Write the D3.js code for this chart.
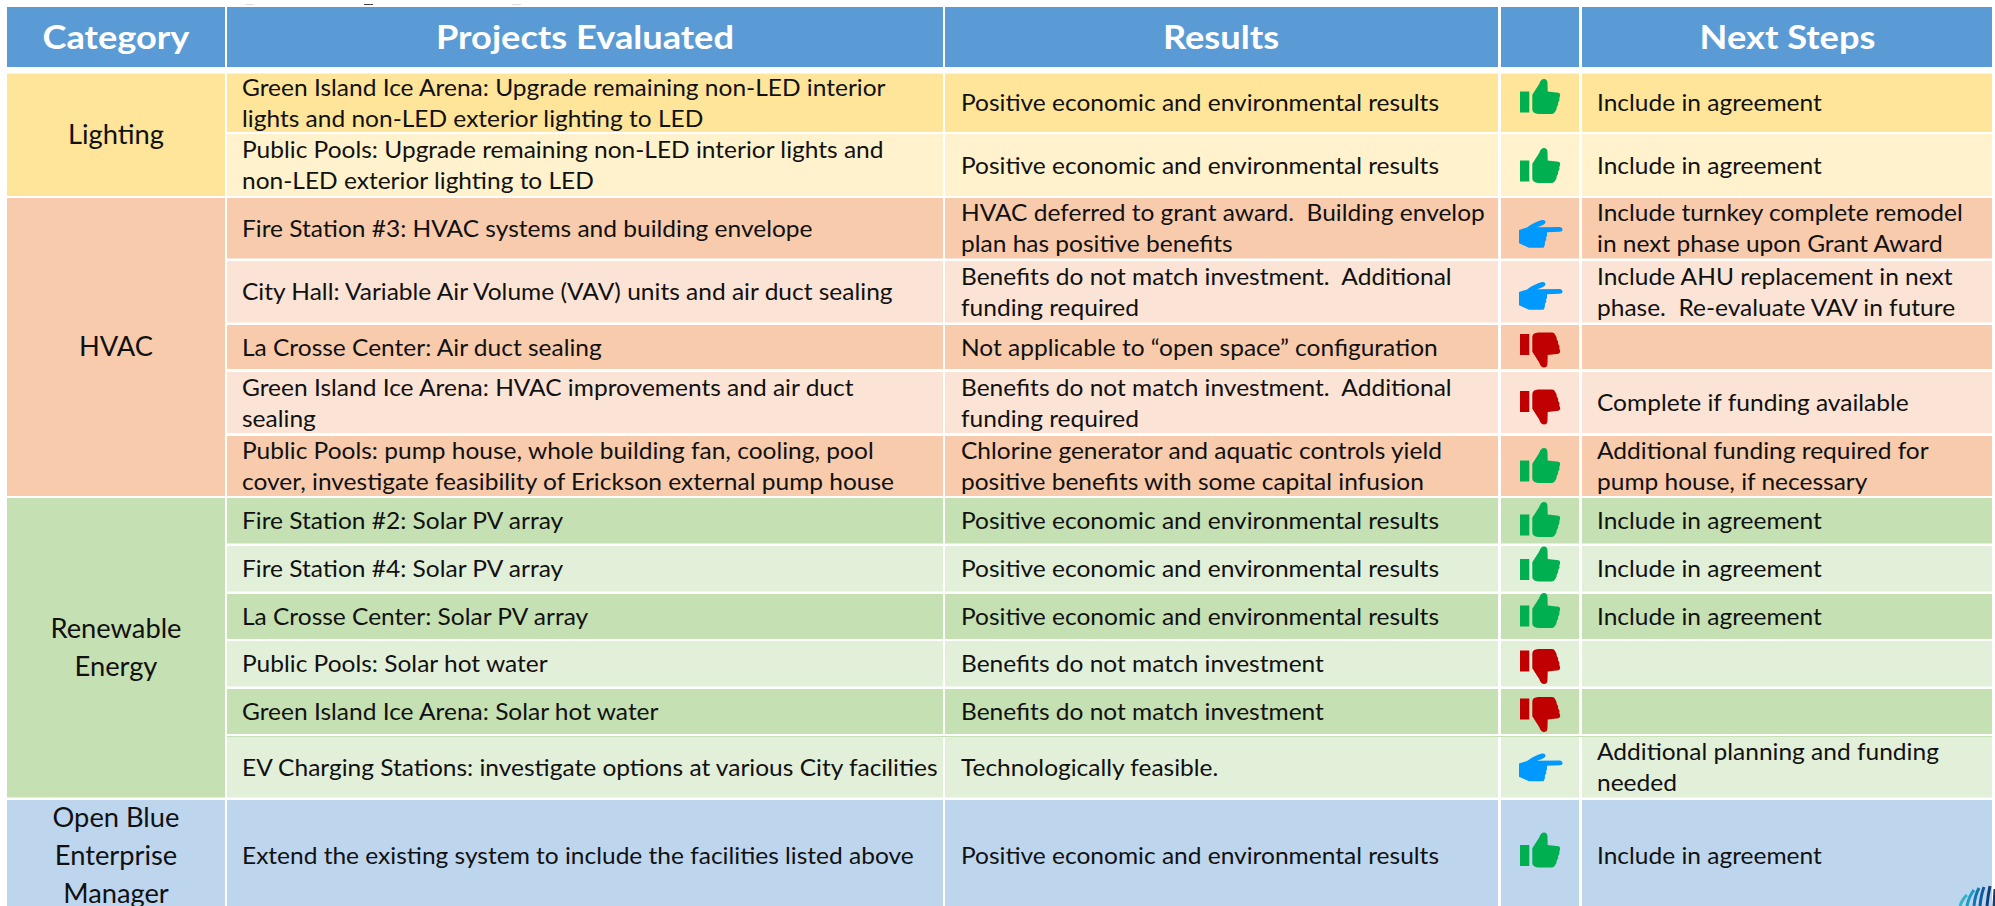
<!DOCTYPE html>
<html>
<head>
<meta charset="utf-8">
<script src="https://cdnjs.cloudflare.com/ajax/libs/d3/7.8.5/d3.min.js"></script>
<style>
  html, body { margin: 0; padding: 0; background: #fff; overflow: hidden; }
  svg { display: block; }
  text { font-family: Lato, "Open Sans", sans-serif; white-space: pre; }
</style>
</head>
<body>
<div id="chart"></div>
<script>
// Table content
var headers = ["Category", "Projects Evaluated", "Results", "", "Next Steps"];

var categories = ["Lighting", "HVAC", "Renewable\nEnergy", "Open Blue\nEnterprise\nManager"];
var categoryRows = [2, 5, 6, 1];

var projects = [
    "Green Island Ice Arena: Upgrade remaining non-LED interior\nlights and non-LED exterior lighting to LED",
    "Public Pools: Upgrade remaining non-LED interior lights and\nnon-LED exterior lighting to LED",
    "Fire Station #3: HVAC systems and building envelope",
    "City Hall: Variable Air Volume (VAV) units and air duct sealing",
    "La Crosse Center: Air duct sealing",
    "Green Island Ice Arena: HVAC improvements and air duct\nsealing",
    "Public Pools: pump house, whole building fan, cooling, pool\ncover, investigate feasibility of Erickson external pump house",
    "Fire Station #2: Solar PV array",
    "Fire Station #4: Solar PV array",
    "La Crosse Center: Solar PV array",
    "Public Pools: Solar hot water",
    "Green Island Ice Arena: Solar hot water",
    "EV Charging Stations: investigate options at various City facilities",
    "Extend the existing system to include the facilities listed above"
];

var results = [
    "Positive economic and environmental results",
    "Positive economic and environmental results",
    "HVAC deferred to grant award.  Building envelop\nplan has positive benefits",
    "Benefits do not match investment.  Additional\nfunding required",
    "Not applicable to “open space” configuration",
    "Benefits do not match investment.  Additional\nfunding required",
    "Chlorine generator and aquatic controls yield\npositive benefits with some capital infusion",
    "Positive economic and environmental results",
    "Positive economic and environmental results",
    "Positive economic and environmental results",
    "Benefits do not match investment",
    "Benefits do not match investment",
    "Technologically feasible.",
    "Positive economic and environmental results"
];

var verdicts = ["up", "up", "point", "point", "down", "down", "up", "up", "up", "up", "down", "down", "point", "up"];

var nextSteps = [
    "Include in agreement",
    "Include in agreement",
    "Include turnkey complete remodel\nin next phase upon Grant Award",
    "Include AHU replacement in next\nphase.  Re-evaluate VAV in future",
    "",
    "Complete if funding available",
    "Additional funding required for\npump house, if necessary",
    "Include in agreement",
    "Include in agreement",
    "Include in agreement",
    "",
    "",
    "Additional planning and funding\nneeded",
    "Include in agreement"
];

// Layout
var colEdges = [[7, 225], [227, 943], [945, 1498], [1501, 1579], [1582, 1992]];
var rowEdges = [[73.5, 132], [134, 196], [198, 258.5], [261, 322.5], [325, 369], [372, 433], [436, 496],
    [498, 543.5], [546, 591.5], [594, 639], [641, 686.5], [689, 734], [737, 797.5], [800, 911]];
var iconY = [96.5, 165.5, 234, 296, 350, 407, 465.5, 519.5, 564, 610.5, 666.5, 714.5, 767.5, 850];

var darkFill = ["#FFE599", "#F8CBAD", "#C5E0B3", "#BDD6EE"];
var lightFill = ["#FFF2CC", "#FBE4D5", "#E2EFD9", "#BDD6EE"];
var iconFill = { up: "#00B050", down: "#C00000", point: "#0099FF" };

var iconPath = {
    up: "M-20,-5H-10.7V16H-20Z M-7.7,-1.7L-0.8,-12.5Q0.8,-17.5 4,-17.5Q7.5,-17.5 7.5,-13L7.7,-5L18.5,-3.8Q20.7,-3 20,-0.5L19.2,2.2L19.6,3.5L18,6.5L18.2,8L16.6,11L16.6,12.5L15.3,15Q14.3,17.4 12,17.4L-1.7,17.4Q-7.7,17 -7.7,13Z",
    down: "M-20,5H-10.7V-16H-20Z M-7.7,1.7L-0.8,12.5Q0.8,17.5 4,17.5Q7.5,17.5 7.5,13L7.7,5L18.5,3.8Q20.7,3 20,0.5L19.2,-2.2L19.6,-3.5L18,-6.5L18.2,-8L16.6,-11L16.6,-12.5L15.3,-15Q14.3,-17.4 12,-17.4L-1.7,-17.4Q-7.7,-17 -7.7,-13Z",
    point: "M-21,-4L-13,-6.5Q-6,-12 2,-14Q5.5,-14.5 5.5,-11.5Q5.5,-9.5 -3,-6.8L19.5,-7Q22.5,-6.5 22.5,-4.5Q22.5,-2.3 19.5,-2.2L7,-1.7L7,2L6,3.5L6.3,6L5,7.5L4.8,11L3.5,13.7L-11,13.7L-16,11.5L-21,9.3Z"
};

var logoStripes = [
    ["M1960,906Q1963,898 1967,895", "#35B3C9"],
    ["M1967,906Q1969,896 1974,890", "#1C9CC4"],
    ["M1974,906Q1975,895 1979,888", "#1273B0"],
    ["M1980,906Q1981,895 1984,887", "#0F5A9C"],
    ["M1987,906Q1988,895 1990,886", "#123E7C"],
    ["M1994,906L1995,889", "#123E7C"]
];

var svg = d3.select("#chart").append("svg")
    .attr("width", 1995)
    .attr("height", 906)
    .style("background", "#fff");

// Small scraps of the slide above the table
svg.selectAll("rect.scrap")
    .data([[245, "#DDDDDD"], [364, "#444444"], [512, "#DDDDDD"]])
    .enter().append("rect")
    .attr("class", "scrap")
    .attr("x", d => d[0]).attr("y", 4)
    .attr("width", 9).attr("height", 1)
    .attr("fill", d => d[1]);

// Width of a string in a given font, used to match the Calibri widths of the original
function measure(str, size, weight) {
    var t = svg.append("text").attr("font-size", size).attr("font-weight", weight).text(str);
    var w = t.node().getComputedTextLength();
    t.remove();
    return w;
}

var bodyFont = 23, catFont = 26, headFont = 33;
var bodyK = 478 / measure("Positive economic and environmental results", bodyFont, 400);
var catK = 96 / measure("Lighting", catFont, 400);
var headK = 298 / measure("Projects Evaluated", headFont, 700);

function addText(g, str, x, cy, opts) {
    var lines = str.split("\n");
    lines.forEach(function (line, i) {
        if (!line) return;
        var w = measure(line, opts.size, opts.weight || 400);
        g.append("text")
            .attr("x", x)
            .attr("y", cy + opts.base + (i - (lines.length - 1) / 2) * opts.leading)
            .attr("text-anchor", opts.anchor || "start")
            .attr("font-size", opts.size)
            .attr("font-weight", opts.weight || 400)
            .attr("fill", opts.fill || "#111")
            .attr("textLength", w * opts.k)
            .attr("lengthAdjust", "spacingAndGlyphs")
            .text(line);
    });
}

// Header row
var head = svg.append("g");
headers.forEach(function (h, i) {
    var c = colEdges[i];
    head.append("rect")
        .attr("x", c[0]).attr("y", 7)
        .attr("width", c[1] - c[0]).attr("height", 60)
        .attr("fill", "#5B9BD5");
    if (h) addText(head, h, i == 2 ? 1221 : i == 4 ? 1787.5 : (c[0] + c[1]) / 2, 38, {
        size: headFont, weight: 700, fill: "#fff", anchor: "middle", base: 11, leading: 0, k: headK
    });
});

// Which category each row belongs to
var rowCat = [];
categoryRows.forEach((n, c) => d3.range(n).forEach(() => rowCat.push(c)));

// Body rows
var body = svg.append("g");
projects.forEach(function (p, r) {
    var e = rowEdges[r];
    var cat = rowCat[r];
    var first = rowCat.indexOf(cat);
    var fill = (r - first) % 2 == 0 ? darkFill[cat] : lightFill[cat];
    var cy = (e[0] + e[1]) / 2;

    d3.range(1, 5).forEach(function (c) {
        body.append("rect")
            .attr("x", colEdges[c][0]).attr("y", e[0])
            .attr("width", colEdges[c][1] - colEdges[c][0]).attr("height", e[1] - e[0])
            .attr("fill", fill);
    });

    var opts = { size: bodyFont, base: 8.5, leading: 31, k: bodyK };
    addText(body, p, 242, cy, opts);
    addText(body, results[r], 961, cy, opts);
    addText(body, nextSteps[r], 1597, cy, opts);

    body.append("path")
        .attr("transform", "translate(1540," + iconY[r] + ")")
        .attr("d", iconPath[verdicts[r]])
        .attr("fill", iconFill[verdicts[r]]);
});

// Category column, spanning its rows
var start = 0;
categories.forEach(function (name, i) {
    var top = rowEdges[start][0];
    var bottom = rowEdges[start + categoryRows[i] - 1][1];
    body.append("rect")
        .attr("x", colEdges[0][0]).attr("y", top)
        .attr("width", colEdges[0][1] - colEdges[0][0]).attr("height", bottom - top)
        .attr("fill", darkFill[i]);
    addText(body, name, 116, (top + bottom) / 2, {
        size: catFont, anchor: "middle", base: 9, leading: 38, k: catK
    });
    start += categoryRows[i];
});

// Thin green rule at the top of the EV row
svg.append("rect").attr("x", 227).attr("y", 736).attr("width", 1765).attr("height", 1).attr("fill", "#C5E0B3");

// Corner of the logo poking in at bottom right
svg.append("rect").attr("x", 1992).attr("y", 800).attr("width", 3).attr("height", 87).attr("fill", "#fff");
svg.selectAll("path.logo")
    .data(logoStripes)
    .enter().append("path")
    .attr("class", "logo")
    .attr("d", d => d[0])
    .attr("fill", "none")
    .attr("stroke", d => d[1])
    .attr("stroke-width", 3);
</script>
</body>
</html>
